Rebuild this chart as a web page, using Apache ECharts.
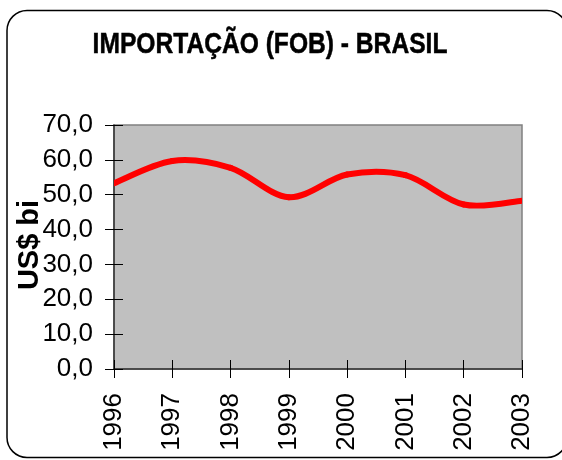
<!DOCTYPE html>
<html>
<head>
<meta charset="utf-8">
<script src="https://cdn.jsdelivr.net/npm/echarts@6/dist/echarts.min.js"></script>
<style>
  html, body { margin: 0; padding: 0; background: #fff; }
  #chart { width: 562px; height: 460px; }
</style>
</head>
<body>
<div id="chart"></div>
<script>
// Brazilian imports (FOB), billions of US dollars
const years = ['1996', '1997', '1998', '1999', '2000', '2001', '2002', '2003'];
const imports = [53.3, 59.7, 57.7, 49.3, 55.8, 55.6, 47.2, 48.3];
const yTicks = [0, 10, 20, 30, 40, 50, 60, 70];

const chartTitle = 'IMPORTAÇÃO (FOB) - BRASIL';
const yName = 'US$ bi';

const chart = echarts.init(document.getElementById('chart'), null, { renderer: 'canvas' });

const fontFam = '"Liberation Sans", Arial, sans-serif';
const fmt = v => v.toFixed(1).replace('.', ',');

const yBase = {
  type: 'value',
  min: yTicks[0],
  max: yTicks[yTicks.length - 1],
  interval: 10,
  splitLine: { show: false }
};

// Smoothed curve: each data item draws the cubic segment to the next point,
// with Catmull-Rom tangents taken from the neighbouring points.
function renderSegment(params, api) {
  const i = params.dataIndex;
  const n = imports.length;
  if (i >= n - 1) return null;
  const pt = k => {
    const j = Math.max(0, Math.min(n - 1, k));
    return api.coord([j, imports[j]]);
  };
  const p0 = pt(i - 1), p1 = pt(i), p2 = pt(i + 1), p3 = pt(i + 2);
  const c1 = [p1[0] + (p2[0] - p0[0]) / 6, p1[1] + (p2[1] - p0[1]) / 6];
  const c2 = [p2[0] - (p3[0] - p1[0]) / 6, p2[1] - (p3[1] - p1[1]) / 6];
  return {
    type: 'bezierCurve',
    shape: { x1: p1[0], y1: p1[1], cpx1: c1[0], cpy1: c1[1], cpx2: c2[0], cpy2: c2[1], x2: p2[0], y2: p2[1] },
    style: { stroke: '#ff0000', lineWidth: 6, fill: 'none', lineCap: 'round' }
  };
}

const option = {
  animation: false,
  backgroundColor: '#ffffff',
  grid: {
    left: 114, right: 40, top: 125, bottom: 91,
    outerBoundsMode: 'none',
    containLabel: false,
    show: true,
    backgroundColor: '#c0c0c0',
    borderColor: '#808080',
    borderWidth: 1.5
  },
  graphic: [
    {
      type: 'rect',
      shape: { x: 7, y: 10.5, width: 560, height: 447, r: 20 },
      style: { fill: 'none', stroke: '#000', lineWidth: 1.5 },
      z: 100
    },
    {
      type: 'text',
      x: 270,
      y: 45,
      scaleX: 0.82,
      style: {
        text: chartTitle,
        font: 'bold 30px ' + fontFam,
        fill: '#000',
        stroke: '#000',
        lineWidth: 0.5,
        textAlign: 'center',
        textVerticalAlign: 'middle'
      }
    },
    {
      type: 'text',
      x: 30,
      y: 245,
      rotation: Math.PI / 2,
      style: {
        text: yName,
        font: 'bold 29px ' + fontFam,
        fill: '#000',
        textAlign: 'center',
        textVerticalAlign: 'middle'
      },
      z: 50
    }
  ],
  xAxis: [
    {
      type: 'category',
      data: years,
      boundaryGap: false,
      axisLine: { lineStyle: { color: '#333', width: 1.5 } },
      axisTick: { show: true, length: 9, lineStyle: { color: '#000', width: 1 } },
      axisLabel: {
        rotate: 90,
        margin: 24,
        color: '#000',
        fontSize: 26,
        fontFamily: fontFam
      }
    },
    {
      type: 'category',
      data: years,
      boundaryGap: false,
      position: 'bottom',
      axisLine: { show: false },
      axisTick: { show: true, inside: true, length: 9, lineStyle: { color: '#000', width: 1 } },
      axisLabel: { show: false }
    }
  ],
  yAxis: [
    Object.assign({}, yBase, {
      axisLine: { show: true, lineStyle: { color: '#333', width: 1.5 } },
      axisTick: { show: true, length: 9, lineStyle: { color: '#000', width: 1 } },
      axisLabel: {
        margin: 21,
        color: '#000',
        fontSize: 26,
        fontFamily: fontFam,
        formatter: fmt
      }
    }),
    Object.assign({}, yBase, {
      position: 'left',
      axisLine: { show: false },
      axisTick: { show: true, inside: true, length: 9, lineStyle: { color: '#000', width: 1 } },
      axisLabel: { show: false }
    })
  ],
  series: [
    {
      type: 'custom',
      coordinateSystem: 'cartesian2d',
      xAxisIndex: 0,
      yAxisIndex: 0,
      data: imports.map((v, i) => [i, v]),
      renderItem: renderSegment,
      clip: true,
      z: 5
    }
  ]
};

chart.setOption(option);
</script>
</body>
</html>
